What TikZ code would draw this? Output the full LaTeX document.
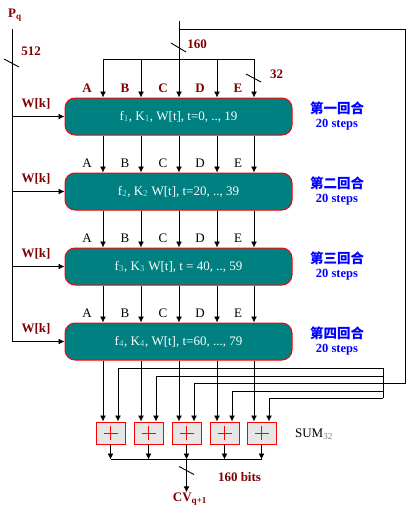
\documentclass[tikz,border=0pt]{standalone}
\usepackage{fontspec}
\setmainfont{Liberation Serif}
\newfontfamily\cjk{Noto Sans CJK SC}
\usetikzlibrary{arrows.meta,calc}
\definecolor{dred}{RGB}{128,0,0}
\definecolor{tealbox}{RGB}{0,128,128}
\definecolor{subc}{RGB}{150,225,240}
\definecolor{adderfill}{RGB}{230,230,230}
\definecolor{cnblue}{RGB}{0,0,255}
\begin{document}
\begin{tikzpicture}[x=1pt,y=-1pt,line width=0.9pt,
  arr/.style={-{Latex[length=6pt,width=6pt]}},
  roundbox/.style={draw=red,line width=1pt,fill=tealbox,rounded corners=10pt,
    minimum width=227pt,minimum height=37pt,inner sep=0pt,text=white,
    font=\fontsize{13}{15}\selectfont},
  adder/.style={draw=red,line width=1pt,fill=adderfill,minimum width=29pt,
    minimum height=22pt,inner sep=0pt,
    path picture={\draw[red,line width=0.9pt]
      ([xshift=-7pt]path picture bounding box.center) -- ([xshift=7pt]path picture bounding box.center)
      ([yshift=-7pt]path picture bounding box.center) -- ([yshift=7pt]path picture bounding box.center);}},
  redlab/.style={text=dred,font=\fontsize{13}{15}\selectfont\bfseries,inner sep=0pt},
  blacklab/.style={text=black,font=\fontsize{13}{15}\selectfont,inner sep=0pt},
  cnlab/.style={text=cnblue,font=\fontsize{13.5}{15}\selectfont\cjk\bfseries,inner sep=0pt},
  steplab/.style={text=cnblue,font=\fontsize{12.5}{15}\selectfont\bfseries,inner sep=0pt}]
\useasboundingbox (0,0) rectangle (407,515);

% round boxes
\node[roundbox] (r1) at (178.5,116.5) {f\textsubscript{\textcolor{subc}{1}}, K\textsubscript{\textcolor{subc}{1}}, W[t], t=0, .., 19};
\node[roundbox] (r2) at (178.5,191.5) {f\textsubscript{\textcolor{subc}{2}}, K\textsubscript{\textcolor{subc}{2}} W[t], t=20, .., 39};
\node[roundbox] (r3) at (178.5,266.5) {f\textsubscript{\textcolor{subc}{3}}, K\textsubscript{\textcolor{subc}{3}} W[t], t = 40, .., 59};
\node[roundbox] (r4) at (178.5,341.5) {f\textsubscript{\textcolor{subc}{4}}, K\textsubscript{\textcolor{subc}{4}}, W[t], t=60, ..., 79};

% columns
\foreach \c/\x in {A/103,B/141,C/179,D/217,E/254} {
  \coordinate (c\c) at (\x,0);
  \coordinate (h\c) at (\x,59);
}

% round labels
\foreach \c/\x in {A/87,B/125,C/163,D/200,E/238} {
  \node[redlab] (l1\c) at (\x,88) {\c};
  \node[blacklab] (l2\c) at (\x,163) {\c};
  \node[blacklab] (l3\c) at (\x,238) {\c};
  \node[blacklab] (l4\c) at (\x,313) {\c};
}

% top input
\coordinate (cin) at (179,21);
\coordinate (split) at (179,29);
\coordinate (fbR) at (405,29);
\coordinate (fbR2) at (405,383);
\draw[arr] (cin) -- (cC |- r1.north);
\draw (hA) -- (hE);
\foreach \c in {A,B,D,E} \draw[arr] (h\c) -- (c\c |- r1.north);
\node[redlab] (n160) at (197,44) {160};
\draw (171,43) -- (186,52);
\node[redlab] (n32) at (276.5,74) {32};
\draw (246,74) -- (261,82);

% between boxes
\foreach \c in {A,B,C,D,E} {
  \foreach \i/\j in {1/2,2/3,3/4} \draw[arr] (c\c |- r\i.south) -- (c\c |- r\j.north);
}

% left W[k]
\node[redlab] (pq) at (15,15) {P\textsubscript{q}};
\coordinate (wtop) at (12,29);
\draw (wtop) -- (wtop |- r4.west);
\foreach \i/\y in {1/116.5,2/191.5,3/266.5,4/341.5} {
  \draw[arr] (wtop |- r\i.west) -- (r\i.west);
  \node[redlab] (w\i) at (36,\y-13) {W[k]};
  \node[cnlab] (cn\i) at (337,\y-8.5) {\ifcase\i\or 第一回合\or 第二回合\or 第三回合\or 第四回合\fi};
  \node[steplab] (st\i) at (337,\y+8.5) {20 steps};
}
\node[redlab] (n512) at (31,51) {512};
\draw (4,59) -- (19,67);

% adders
\foreach \i/\c in {1/A,2/B,3/C,4/D,5/E} {
  \node[adder] (s\i) at ($(c\c)+(7.5,433)$) {};
  \draw[arr] (c\c |- r4.south) -- (c\c |- s\i.north);
}
\node[blacklab] (sum) at (314,434) {SUM\textsubscript{\textcolor{gray}{32}}};

% feedback bus
\foreach \i/\y in {1/368,2/376,4/391,5/398} {
  \coordinate (b\i) at (383,\y);
  \draw[arr] (b\i) -| ([xshift=7.5pt]s\i.north);
}
\draw (b1) -- (b5);
\draw[arr] (split) -- (fbR) -- (fbR2) -| ([xshift=7.5pt]s3.north);

% outputs
\foreach \i in {1,...,5} {
  \coordinate (o\i) at ($(s\i.south)+(0,15)$);
  \draw[arr] (s\i.south) -- (o\i);
}
\draw (o1) -- (o5);
\node[redlab] (cv) at (190,499) {CV\textsubscript{q+1}};
\draw[arr] (o3) -- (o3 |- cv.north);
\draw ($(o3)+(-7.5,7)$) -- ($(o3)+(7.5,15)$);
\node[redlab] (bits) at (239.5,477) {160 bits};
\end{tikzpicture}
\end{document}
